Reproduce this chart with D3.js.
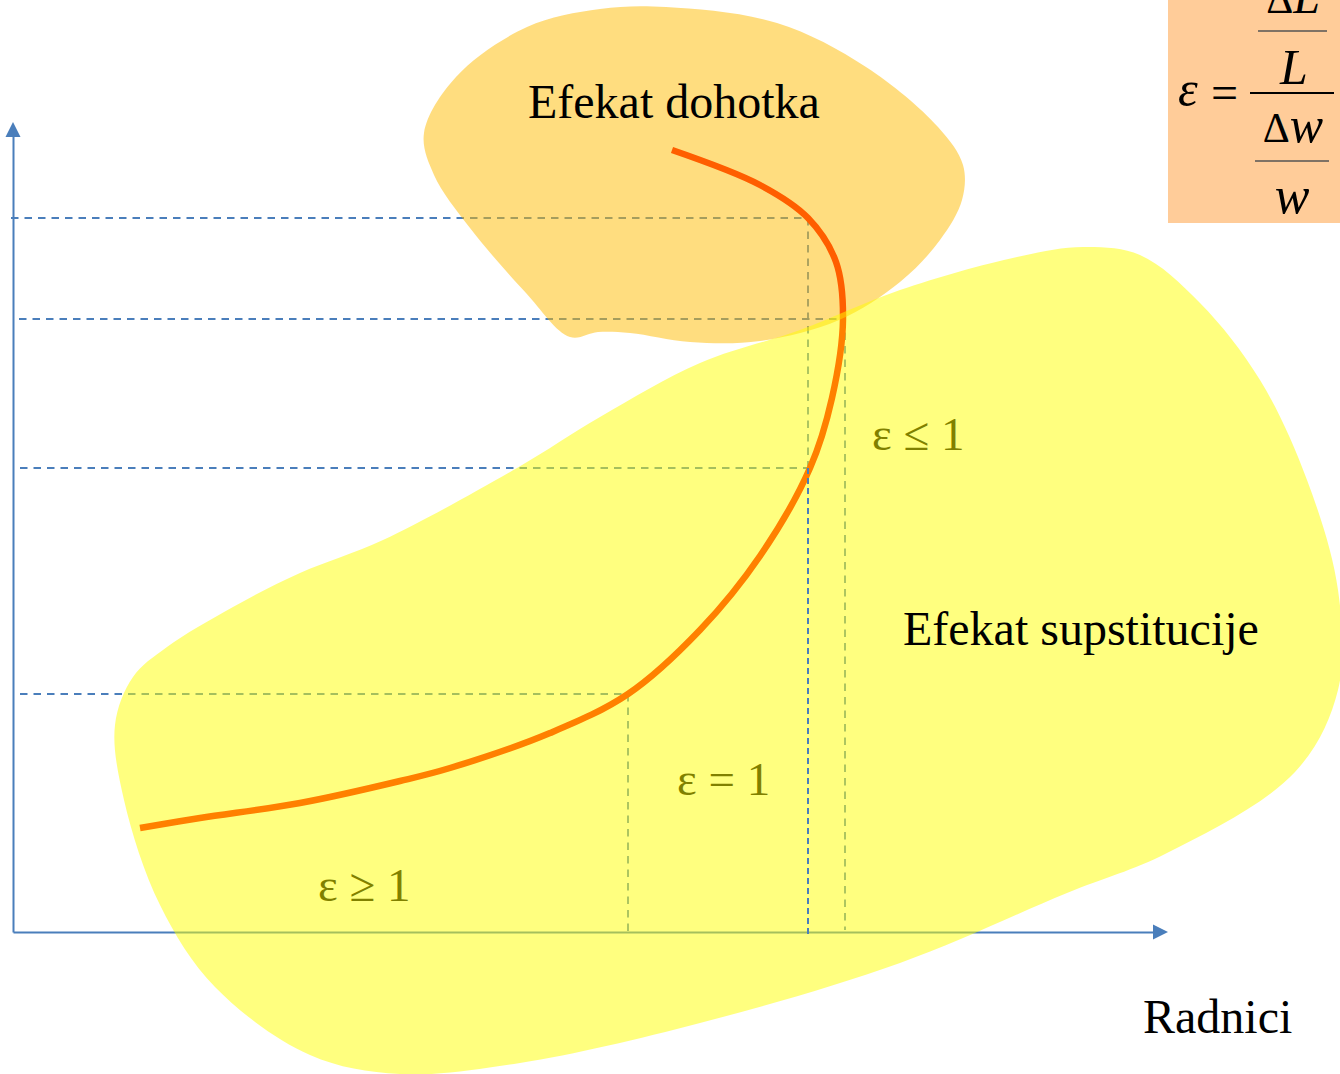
<!DOCTYPE html>
<html>
<head>
<meta charset="utf-8">
<script src="https://cdn.jsdelivr.net/npm/d3@7"></script>
<style>
  html, body { margin: 0; padding: 0; background: #fff; }
  svg { display: block; }
  text { font-family: "Liberation Serif", "Times New Roman", serif; }
</style>
</head>
<body>
<div id="chart"></div>
<script>
// labour supply curve: L = workers (x), w = wage (y)
const supplyL = [12.7, 18.7, 28.7, 38.7, 43.7, 53.7, 61.5, 68.7, 74.7, 79.7, 81.9, 83.0, 82.3, 79.5, 74.7, 65.9];
const supplyW = [10.4, 11.4, 12.9, 15.1, 16.4, 19.9, 23.8, 30.2, 37.6, 46.4, 53.4, 61.3, 67.0, 71.4, 74.7, 78.2];

// points on the curve that get dashed guide lines
const guideL = [61.5, 79.5, 83.2, 79.5];
const guideW = [23.8, 46.4, 61.3, 71.4];
const hGuideFrom = [0.7, 0.7, 0.6, -0.2];
const vGuideTo = [-0.3, -0.3, 0.2, 46.4];
const vGuideOnTop = [false, true, false, false];

// outline of the "income effect" area
const incomeL = [65.3, 76.4, 85.3, 92.5, 95.0, 94.9, 92.7, 88.7, 82.6, 74.7, 67.7, 61.7, 58.5, 55.7, 51.3, 45.7, 42.1, 41.1, 44.3, 51.4, 58.7];
const incomeW = [92.5, 90.9, 86.5, 80.5, 76.7, 73.2, 69.2, 65.0, 61.2, 59.1, 59.0, 59.9, 60.0, 59.5, 63.9, 70.4, 75.7, 79.9, 85.5, 90.5, 92.3];

// outline of the "substitution effect" area
const substL = [107.0, 112.7, 118.7, 124.7, 129.4, 132.5, 132.5, 128.2, 115.4, 105.4, 88.7, 68.7, 50.7, 38.7, 29.7, 20.2, 14.7, 11.1, 10.2, 12.0, 15.4, 22.0, 28.7, 37.0, 50.4, 58.7, 68.7, 78.7, 88.7, 100.4];
const substW = [68.5, 67.7, 62.9, 55.2, 45.2, 34.2, 24.2, 16.0, 7.9, 3.9, -3.1, -9.1, -13.1, -14.2, -12.3, -5.5, 2.7, 13.2, 20.7, 25.5, 28.5, 32.5, 35.9, 39.2, 46.4, 51.5, 56.9, 60.2, 64.2, 67.5];

// elasticity labels
const epsText = ["ε ≥ 1", "ε = 1", "ε ≤ 1"];
const epsL = [30.5, 66.4, 85.9];
const epsW = [3.1, 13.7, 48.2];

// area / axis labels
const labelText = ["Efekat dohotka", "Efekat supstitucije", "Radnici"];
const labelL = [51.5, 89.0, 113.0];
const labelW = [81.4, 28.7, -10.1];

const width = 1340, height = 1074;
const blue = "#4a7ebb";

const svg = d3.select("#chart").append("svg")
  .attr("width", width)
  .attr("height", height);

const x = d3.scaleLinear().domain([0, 115.5]).range([13, 1168]);
const y = d3.scaleLinear().domain([0, 81]).range([932, 122]);

// dashed guides (under the shaded areas)
const guides = svg.append("g")
  .attr("stroke", blue)
  .attr("stroke-width", 1.8)
  .attr("stroke-dasharray", "7.5,6")
  .attr("fill", "none");

guideL.forEach((L, i) => {
  guides.append("line")
    .attr("x1", x(hGuideFrom[i])).attr("x2", x(L))
    .attr("y1", y(guideW[i])).attr("y2", y(guideW[i]));
  if (!vGuideOnTop[i]) {
    guides.append("line")
      .attr("x1", x(L)).attr("x2", x(L))
      .attr("y1", y(guideW[i])).attr("y2", y(vGuideTo[i]));
  }
});

// axes, no ticks, arrow heads at the ends
const xAxisG = svg.append("g")
  .attr("transform", `translate(0,${y(0)})`)
  .call(d3.axisBottom(x.copy().range([x(0), x.range()[1] - 12])).tickValues([]).tickSizeOuter(0));
const yAxisG = svg.append("g")
  .attr("transform", `translate(${x(0)},0)`)
  .call(d3.axisLeft(y.copy().range([y(0), y.range()[1] + 12])).tickValues([]).tickSizeOuter(0));
[xAxisG, yAxisG].forEach(g => g.select(".domain").attr("stroke", blue).attr("stroke-width", 2));

const xEnd = x.range()[1], yEnd = y.range()[1];
svg.append("path")
  .attr("d", `M${xEnd},${y(0)}L${xEnd - 15},${y(0) - 7.5}L${xEnd - 15},${y(0) + 7.5}Z`)
  .attr("fill", blue);
svg.append("path")
  .attr("d", `M${x(0)},${yEnd}L${x(0) - 7.5},${yEnd + 15}L${x(0) + 7.5},${yEnd + 15}Z`)
  .attr("fill", blue);

// supply curve
const line = d3.line()
  .x(d => x(d[0]))
  .y(d => y(d[1]))
  .curve(d3.curveCatmullRom.alpha(0.5));

svg.append("path")
  .datum(d3.zip(supplyL, supplyW))
  .attr("d", line)
  .attr("fill", "none")
  .attr("stroke", "#ff0000")
  .attr("stroke-width", 6.5);

// elasticity labels
svg.append("g")
  .selectAll("text")
  .data(epsText)
  .join("text")
  .attr("x", (d, i) => x(epsL[i]))
  .attr("y", (d, i) => y(epsW[i]))
  .attr("font-size", 47)
  .attr("fill", "#000")
  .text(d => d);

// translucent areas
const blob = d3.line()
  .x(d => x(d[0]))
  .y(d => y(d[1]))
  .curve(d3.curveCatmullRomClosed.alpha(0.5));

svg.append("path")
  .datum(d3.zip(incomeL, incomeW))
  .attr("d", blob)
  .attr("fill", "#ffbb00")
  .attr("fill-opacity", 0.5);

svg.append("path")
  .datum(d3.zip(substL, substW))
  .attr("d", blob)
  .attr("fill", "#ffff00")
  .attr("fill-opacity", 0.5);

// guide drawn above the areas
guideL.forEach((L, i) => {
  if (vGuideOnTop[i]) {
    svg.append("line")
      .attr("x1", x(L)).attr("x2", x(L))
      .attr("y1", y(guideW[i])).attr("y2", y(vGuideTo[i]))
      .attr("stroke", blue)
      .attr("stroke-width", 2)
      .attr("stroke-dasharray", "6,4");
  }
});

svg.append("g")
  .selectAll("text")
  .data(labelText)
  .join("text")
  .attr("x", (d, i) => x(labelL[i]))
  .attr("y", (d, i) => y(labelW[i]))
  .attr("font-size", 48)
  .attr("fill", "#000")
  .text(d => d);

// elasticity formula box
const f = svg.append("g");
f.append("rect")
  .attr("x", 1168).attr("y", 0)
  .attr("width", 172).attr("height", 223)
  .attr("fill", "#ffcc99");

f.append("text").attr("x", 1178).attr("y", 106)
  .attr("font-size", 50).attr("font-style", "italic").text("ε");
f.append("text").attr("x", 1211).attr("y", 109)
  .attr("font-size", 48).text("=");

const num1 = f.append("text").attr("x", 1293).attr("y", 13)
  .attr("text-anchor", "middle").attr("font-size", 48);
num1.append("tspan").attr("font-size", 42).text("Δ");
num1.append("tspan").attr("font-style", "italic").text("L");

f.append("line").attr("x1", 1258).attr("x2", 1327).attr("y1", 31).attr("y2", 31)
  .attr("stroke", "#555").attr("stroke-width", 1.5);
f.append("text").attr("x", 1294).attr("y", 84)
  .attr("text-anchor", "middle").attr("font-size", 50)
  .attr("font-style", "italic").text("L");

f.append("line").attr("x1", 1250).attr("x2", 1334).attr("y1", 93).attr("y2", 93)
  .attr("stroke", "#000").attr("stroke-width", 2);

const den1 = f.append("text").attr("x", 1293).attr("y", 142)
  .attr("text-anchor", "middle").attr("font-size", 50);
den1.append("tspan").attr("font-size", 42).text("Δ");
den1.append("tspan").attr("font-style", "italic").text("w");

f.append("line").attr("x1", 1255).attr("x2", 1329).attr("y1", 161).attr("y2", 161)
  .attr("stroke", "#555").attr("stroke-width", 1.5);
f.append("text").attr("x", 1292).attr("y", 213)
  .attr("text-anchor", "middle").attr("font-size", 52)
  .attr("font-style", "italic").text("w");
</script>
</body>
</html>
